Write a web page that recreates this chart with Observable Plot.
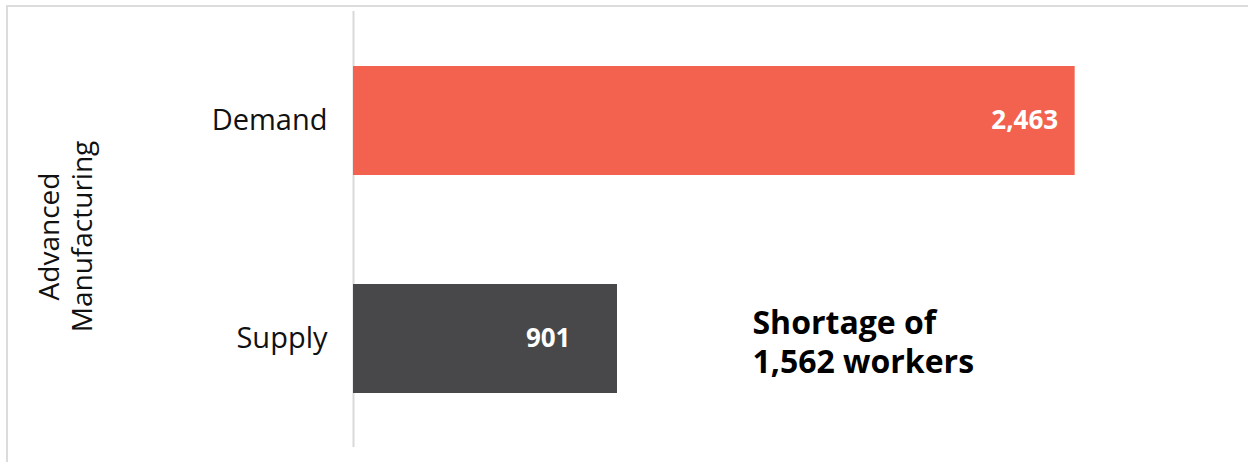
<!DOCTYPE html>
<html>
<head>
<meta charset="utf-8">
<script src="https://cdn.jsdelivr.net/npm/d3@7"></script>
<script src="https://cdn.jsdelivr.net/npm/@observablehq/plot@0.6"></script>
<style>
  html, body { margin: 0; padding: 0; background: #fff; }
  #wrap { position: relative; width: 1248px; height: 462px; overflow: hidden; }
  #frame { position: absolute; left: 6px; top: 5px; right: -10px; bottom: -10px;
           border-top: 2px solid #dcdcdc; border-left: 2px solid #dcdcdc; pointer-events: none; }
</style>
</head>
<body>
<div id="wrap"><div id="frame"></div></div>
<script>
// Data
const categories = ["Demand", "Supply"];
const workers = [2463, 901];
const groupLabel = "Advanced\nManufacturing";
const barColors = ["#F2624F", "#48484A"];

const data = categories.map((c, i) => ({category: c, value: workers[i]}));
const fmt = d3.format(",");
const demand = workers[0], supply = workers[1];
const shortageText = `Shortage of\n${fmt(demand - supply)} workers`;

const chart = Plot.plot({
  width: 1248,
  height: 462,
  marginLeft: 353,
  marginRight: 16,
  marginTop: 11,
  marginBottom: 15,
  style: {fontFamily: "'Open Sans', sans-serif", fontSize: "29px", color: "#111", background: "transparent"},
  x: {domain: [0, 3000], axis: null},
  y: {domain: categories, paddingInner: 0.5, paddingOuter: 0.25, label: null},
  color: {domain: categories, range: barColors},
  marks: [
    Plot.ruleX([0], {stroke: "#d9d9d9", strokeWidth: 2}),
    Plot.barX(data, {x: "value", y: "category", fill: "category"}),
    Plot.axisY({tickSize: 0, tickPadding: 26, fontSize: 29, label: null}),
    Plot.text(data.filter(d => d.category === "Demand"), {
      x: "value", y: "category", text: d => fmt(d.value),
      textAnchor: "end", dx: -17, fill: "white", fontWeight: "bold", fontSize: 26
    }),
    Plot.text(data.filter(d => d.category === "Supply"), {
      x: "value", y: "category", text: d => fmt(d.value),
      textAnchor: "end", dx: -47, fill: "white", fontWeight: "bold", fontSize: 26
    }),
    Plot.text([shortageText], {
      x: () => supply, y: () => "Supply", text: d => d,
      textAnchor: "start", dx: 135, dy: 2, fontSize: 32, fontWeight: "bold",
      lineHeight: 1.22, fill: "#000"
    }),
    Plot.text([groupLabel], {
      frameAnchor: "left", text: d => d, rotate: -90, textAnchor: "middle",
      dx: -289, dy: 7, fontSize: 28, lineHeight: 1.18, fill: "#111"
    })
  ]
});
document.getElementById("wrap").prepend(chart);
</script>
</body>
</html>
